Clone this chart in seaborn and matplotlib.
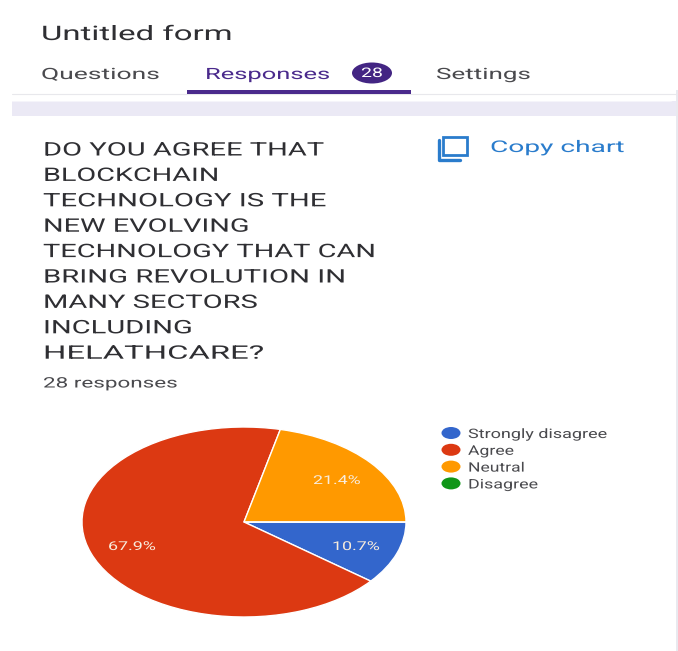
import matplotlib
matplotlib.use("Agg")
import matplotlib.pyplot as plt
import matplotlib.patheffects as pe
from matplotlib.patches import Ellipse, FancyBboxPatch, Rectangle
from matplotlib.transforms import Affine2D
import seaborn as sns

categories = ["Strongly disagree", "Agree", "Neutral", "Disagree"]
shares = [10.7, 67.9, 21.4, 0.0]
slice_colors = ["#3366cc", "#dc3912", "#ff9900", "#109618"]
question_lines = ["DO YOU AGREE THAT", "BLOCKCHAIN", "TECHNOLOGY IS THE", "NEW EVOLVING",
                  "TECHNOLOGY THAT CAN", "BRING REVOLUTION IN", "MANY SECTORS",
                  "INCLUDING", "HELATHCARE?"]
tabs = ["Questions", "Responses", "Settings"]
response_count = 28

sns.set_theme(style="white", palette=sns.color_palette(slice_colors))
plt.rcParams["font.family"] = ["Roboto", "DejaVu Sans"]

W, H = 678, 651
fig = plt.figure(figsize=(W / 100, H / 100), dpi=100, facecolor="white")
renderer = fig.canvas.get_renderer()


class WideGlyphs(pe.AbstractPathEffect):
    """Widens glyph outlines about the text anchor."""

    def __init__(self, sx):
        super().__init__()
        self.sx = sx

    def draw_path(self, renderer, gc, tpath, affine, rgbFace=None):
        renderer.draw_path(gc, tpath, Affine2D().scale(self.sx, 1) + affine, rgbFace)


def wide_text(ax, x, y, s, size, color, width, **kw):
    """Place left-anchored text and widen it to span `width` pixels."""
    t = ax.text(x, y + 1.5, s, fontsize=size, color=color, va="center", ha="left", **kw)
    natural = t.get_window_extent(renderer).width
    t.set_path_effects([WideGlyphs(width / natural)])
    return t


# Page layer addressed in pixels, origin at the top left
page = fig.add_axes([0, 0, 1, 1])
page.set_xlim(0, W)
page.set_ylim(H, 0)
page.axis("off")

DARK = "#2f2f33"
GREY = "#4a4a4e"
PURPLE = "#4a2a8c"
BLUE = "#2a7ccc"
BAND = "#ebe9f5"

# Lavender band and right gutter behind the rounded panels
page.add_patch(Rectangle((12, 101), 666, 15, color=BAND, lw=0))
page.add_patch(Rectangle((676, 90), 2, 561, color="#e9e9ef", lw=0))
page.add_patch(FancyBboxPatch((-10, 60), 686, 41.5,
                              boxstyle="round,pad=0,rounding_size=6", fc="white", lw=0))
page.add_patch(FancyBboxPatch((12, 116), 664, 560,
                              boxstyle="round,pad=0,rounding_size=7", fc="white", lw=0))
page.plot([12, 676], [93.5, 93.5], color="#e8e8ec", lw=0.8)

wide_text(page, 41, 33, "Untitled form", 14.4, DARK, 191)
wide_text(page, 41, 73, tabs[0], 11.2, GREY, 119)
wide_text(page, 205, 73, tabs[1], 11.2, PURPLE, 125)
wide_text(page, 436, 73, tabs[2], 11.2, GREY, 95)

page.add_patch(Ellipse((372, 73), 40, 21, color="#432583", lw=0))
wide_text(page, 361, 72, str(response_count), 9.5, "white", 22)
page.add_patch(Rectangle((187, 90), 224, 3.5, color=PURPLE, lw=0, zorder=3))

question_widths = [281, 176, 283, 206, 333, 302, 215, 149, 221]
for i, (line, width) in enumerate(zip(question_lines, question_widths)):
    wide_text(page, 43, 149 + i * 25.4, line, 13.4, DARK, width)
wide_text(page, 43, 382, f"{response_count} responses", 10.4, GREY, 134)

# Copy icon and action label
page.add_patch(Rectangle((443, 137), 24, 18, fill=False, ec=BLUE, lw=2))
page.plot([439, 439, 460], [140, 160, 160], color=BLUE, lw=2.4)
wide_text(page, 490, 146, "Copy chart", 11.6, BLUE, 135)

# Legend swatches and names
legend_widths = [139, 46, 57, 70]
for i, (name, col, width) in enumerate(zip(categories, slice_colors, legend_widths)):
    y = 433 + i * 16.8
    page.add_patch(Ellipse((451, y), 19, 12, color=col, lw=0))
    wide_text(page, 468, y, name, 9.4, GREY, width)

# Pie drawn stretched across a wide box, clockwise from three o'clock
cx, cy, rx, ry = 244, 522, 162, 95
pie_ax = fig.add_axes([(cx - rx) / W, 1 - (cy + ry) / H, 2 * rx / W, 2 * ry / H], zorder=3)
pie_ax.pie(shares, colors=slice_colors, startangle=0, counterclock=False, radius=1,
           wedgeprops=dict(edgecolor="white", linewidth=1.0))
pie_ax.set_aspect("auto")
pie_ax.set_xlim(-1, 1)
pie_ax.set_ylim(-1, 1)
pie_ax.patch.set_alpha(0)

# Percentage labels sit on top of the slices
overlay = fig.add_axes([0, 0, 1, 1], zorder=4)
overlay.set_xlim(0, W)
overlay.set_ylim(H, 0)
overlay.axis("off")
for share, (x, y) in zip(shares[:3], [(332, 545), (108, 545), (313, 479)]):
    wide_text(overlay, x, y, f"{share:.1f}%", 8.8, "#f8ecdc", 48)

fig.savefig("out.png", dpi=100)
